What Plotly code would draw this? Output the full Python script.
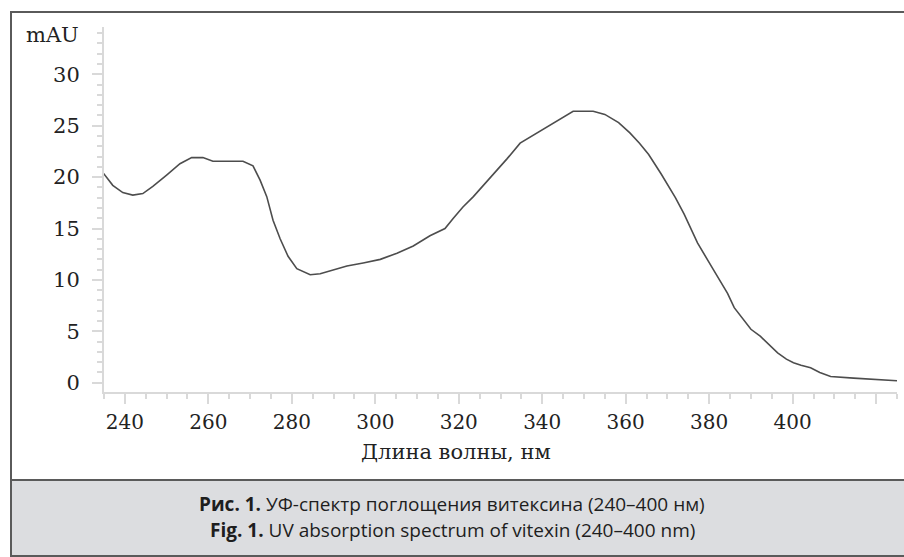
import plotly.graph_objects as go

# Wavelength (nm) and absorbance (mAU)
wavelength = [234.8, 237.1, 239.5, 241.9, 244.3, 246.7, 250.0, 253.2, 256.0, 258.7,
              261.1, 264.5, 268.3, 270.7, 272.4, 274.0, 275.5, 277.2, 279.1, 281.2,
              284.4, 286.8, 289.9, 293.2, 297.1, 301.2, 305.2, 309.1, 313.1, 316.7,
              318.7, 321.0, 323.5, 327.5, 331.6, 334.7, 338.8, 342.6, 347.4, 352.2,
              355.0, 358.3, 361.0, 363.3, 365.5, 368.5, 371.9, 374.0, 377.2, 381.0,
              384.4, 386.0, 388.2, 390.0, 392.3, 394.5, 396.4, 398.5, 400.2, 402.0,
              404.3, 406.5, 409.1, 414.6, 421.0, 425.0]
absorbance = [20.4, 19.2, 18.5, 18.25, 18.4, 19.1, 20.2, 21.3, 21.9, 21.9,
              21.55, 21.55, 21.55, 21.1, 19.7, 18.1, 15.8, 14.0, 12.3, 11.1,
              10.5, 10.6, 11.0, 11.35, 11.65, 12.0, 12.6, 13.3, 14.3, 15.0,
              16.0, 17.1, 18.1, 19.9, 21.8, 23.3, 24.3, 25.3, 26.4, 26.4,
              26.1, 25.3, 24.3, 23.3, 22.2, 20.3, 18.0, 16.4, 13.6, 11.0,
              8.7, 7.3, 6.1, 5.2, 4.5, 3.6, 2.9, 2.3, 1.95, 1.7,
              1.45, 1.0, 0.6, 0.45, 0.3, 0.2]

x_ticks = [240, 260, 280, 300, 320, 340, 360, 380, 400, 420]
x_tick_labels = ["240", "260", "280", "300", "320", "340", "360", "380", "400", ""]
y_ticks = [0, 5, 10, 15, 20, 25, 30]

x_title = "Длина волны, нм"
y_unit = "mAU"
caption_ru = "<b>Рис. 1.</b> УФ-спектр поглощения витексина (240–400 нм)"
caption_en = "<b>Fig. 1.</b> UV absorption spectrum of vitexin (240–400 nm)"

W, H = 904, 557
L, R, T, B = 104, 7, 27, 165
pw, ph = W - L - R, H - T - B


def px(x):
    return (x - L) / pw


def py(y):
    return (H - B - y) / ph


fig = go.Figure()
fig.add_trace(go.Scatter(x=wavelength, y=absorbance, mode="lines",
                         line=dict(color="#4d4d4d", width=1.6), showlegend=False))

axis_col = "#d9d9d9"
serif = "DejaVu Serif"
fig.update_xaxes(range=[235, 425], showgrid=False, zeroline=False,
                 showline=True, linecolor=axis_col, linewidth=2,
                 tickvals=x_ticks, ticktext=x_tick_labels,
                 ticks="outside", ticklen=10, tickwidth=2, tickcolor=axis_col,
                 minor=dict(dtick=5, tick0=235, ticks="outside", ticklen=5,
                            tickwidth=2, tickcolor=axis_col),
                 tickfont=dict(family=serif, size=20, color="#222"),
                 ticklabelstandoff=1)
fig.update_yaxes(range=[-0.9, 34.6], showgrid=False, zeroline=False,
                 showline=True, linecolor=axis_col, linewidth=2,
                 tickvals=y_ticks,
                 ticks="outside", ticklen=10, tickwidth=2, tickcolor=axis_col,
                 minor=dict(dtick=1, tick0=0, ticks="outside", ticklen=5,
                            tickwidth=2, tickcolor=axis_col),
                 tickfont=dict(family=serif, size=21, color="#222"),
                 ticklabelstandoff=8)

# Frame, caption box and divider
div_y, bot_y = 480, 556
fig.add_shape(type="rect", xref="paper", yref="paper",
              x0=px(11), x1=px(905), y0=py(div_y), y1=py(bot_y),
              fillcolor="#dcdde0", line=dict(width=0), layer="below")
fig.add_shape(type="rect", xref="paper", yref="paper",
              x0=px(11), x1=px(905), y0=py(bot_y), y1=py(12),
              line=dict(color="#5a5a5a", width=2), fillcolor="rgba(0,0,0,0)")
fig.add_shape(type="line", xref="paper", yref="paper",
              x0=px(11), x1=px(905), y0=py(div_y), y1=py(div_y),
              line=dict(color="#5a5a5a", width=2))

fig.add_annotation(text=y_unit, xref="paper", yref="paper",
                   x=px(81), y=py(35), xanchor="right", yanchor="middle",
                   showarrow=False, font=dict(family=serif, size=21, color="#222"))
fig.add_annotation(text=x_title, xref="paper", yref="paper",
                   x=px(456), y=py(452), xanchor="center", yanchor="middle",
                   showarrow=False, font=dict(family=serif, size=21, color="#222"))
fig.add_annotation(text=caption_ru, xref="paper", yref="paper",
                   x=px(452), y=py(504), xanchor="center", yanchor="middle",
                   showarrow=False, font=dict(family="Open Sans", size=19, color="#1e1e1e"))
fig.add_annotation(text=caption_en, xref="paper", yref="paper",
                   x=px(452), y=py(530), xanchor="center", yanchor="middle",
                   showarrow=False, font=dict(family="Open Sans", size=19, color="#1e1e1e"))

fig.update_layout(width=W, height=H, margin=dict(l=L, r=R, t=T, b=B),
                  paper_bgcolor="white", plot_bgcolor="white")
fig.write_html("out.html", config={"displayModeBar": False},
               post_script="document.body.style.margin='0';document.body.style.overflow='hidden';")
